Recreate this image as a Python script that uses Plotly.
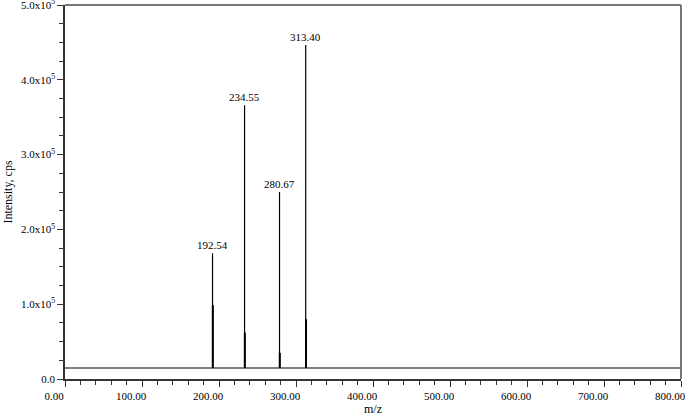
import plotly.graph_objects as go

# peaks
peak_mz = [191.6, 233.2, 278.6, 312.6]
peak_int = [168000, 366000, 250000, 446500]
iso_int = [99000, 62000, 35000, 80000]
peak_labels = ["192.54", "234.55", "280.67", "313.40"]
baseline = 14700

x_range = [0, 800]
y_range = [0, 500000]
y_tickvals = [0, 100000, 200000, 300000, 400000, 500000]
y_ticktext = ["0.0", "1.0x10<sup>5</sup>", "2.0x10<sup>5</sup>", "3.0x10<sup>5</sup>",
              "4.0x10<sup>5</sup>", "5.0x10<sup>5</sup>"]

FONT = "Liberation Serif"

# baseline plus stick peaks
xs, ys = [x_range[0], x_range[1], None], [baseline, baseline, None]
for mz, h in zip(peak_mz, peak_int):
    xs += [mz, mz, None]
    ys += [baseline, h, None]

iso_x, iso_y = [], []
for mz, h in zip(peak_mz, iso_int):
    iso_x += [mz + 0.4, mz + 0.4, None]
    iso_y += [baseline, h, None]

fig = go.Figure()
fig.add_trace(go.Scatter(x=xs, y=ys, mode="lines",
                         line=dict(color="black", width=1.2), hoverinfo="skip"))
fig.add_trace(go.Scatter(x=iso_x, y=iso_y, mode="lines",
                         line=dict(color="black", width=2), hoverinfo="skip"))

for mz, h, lab in zip(peak_mz, peak_int, peak_labels):
    fig.add_annotation(x=mz, y=h, text=lab, showarrow=False,
                       xanchor="center", yanchor="bottom", yshift=0,
                       font=dict(family=FONT, size=11, color="black"))

# grey frame on top and right
fig.add_shape(type="line", xref="paper", yref="paper", x0=0, x1=1, y0=1, y1=1,
              line=dict(color="#777777", width=2))
fig.add_shape(type="line", xref="paper", yref="paper", x0=1, x1=1, y0=0, y1=1,
              line=dict(color="#777777", width=2))

fig.update_layout(
    width=685, height=417,
    margin=dict(l=65, r=4, t=5, b=38),
    plot_bgcolor="white", paper_bgcolor="white",
    showlegend=False,
    font=dict(family=FONT, size=11, color="black"),
    xaxis=dict(
        range=x_range, dtick=100, tickformat=".2f",
        automargin=False, ticklabeloverflow="allow",
        showgrid=False, zeroline=False,
        showline=True, linecolor="#333333", linewidth=1.5,
        ticks="outside", ticklen=6, tickwidth=1, tickcolor="#333333",
        ticklabelshift=-11,
        minor=dict(dtick=20, ticks="outside", ticklen=4, tickcolor="#333333"),
        title=dict(text="m/z", font=dict(family=FONT, size=12), standoff=0),
    ),
    yaxis=dict(
        range=y_range, tickvals=y_tickvals, ticktext=y_ticktext,
        automargin=False, ticklabeloverflow="allow",
        showgrid=False, zeroline=False,
        showline=True, linecolor="#333333", linewidth=1.5,
        ticks="outside", ticklen=6, tickwidth=1, tickcolor="#333333",
        minor=dict(dtick=25000, ticks="outside", ticklen=4, tickcolor="#333333"),
        title=dict(text="Intensity, cps", font=dict(family=FONT, size=12), standoff=6),
    ),
)

# page body has an 8px default margin; drop it so the figure sits at 0,0
fig.write_html("out.html", config={"displayModeBar": False},
               post_script="document.body.style.margin='0';")
